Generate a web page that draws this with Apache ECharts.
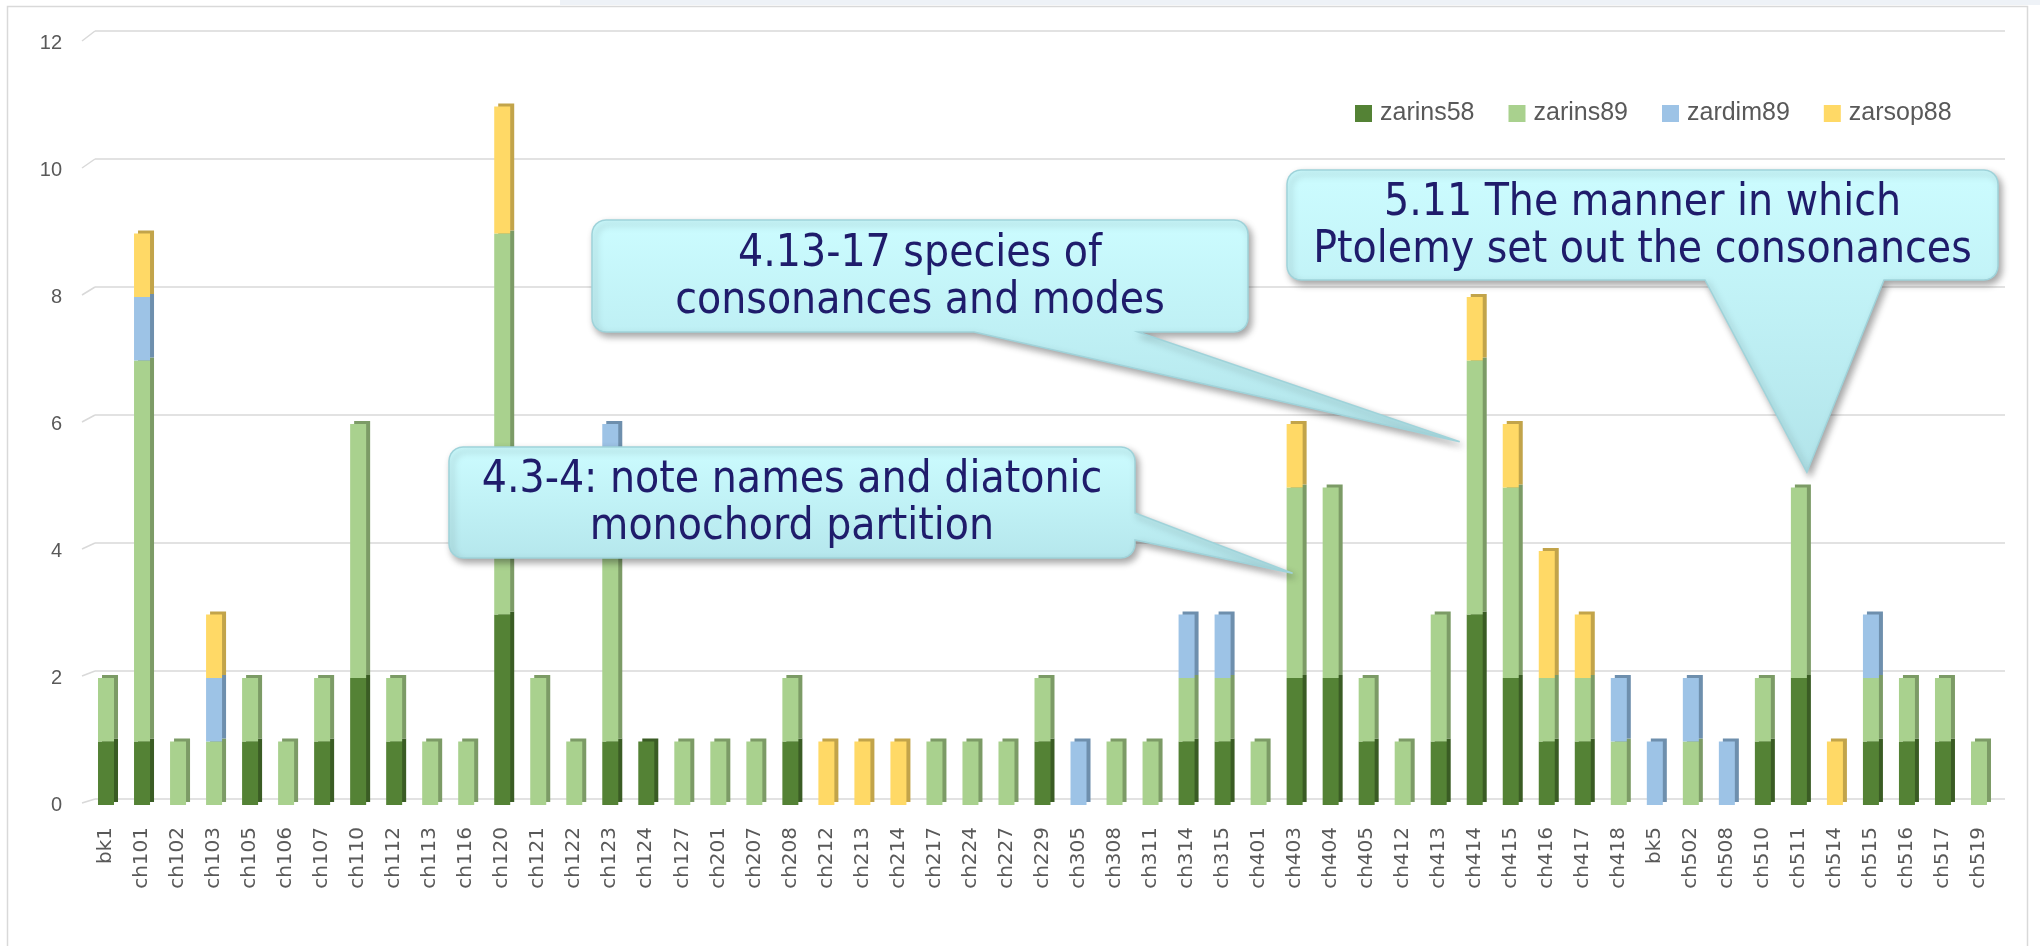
<!DOCTYPE html>
<html>
<head>
<meta charset="utf-8">
<script src="https://cdn.jsdelivr.net/npm/echarts@6/dist/echarts.min.js"></script>
<style>
  html, body { margin: 0; padding: 0; background: #ffffff; }
  #chart { width: 2040px; height: 946px; }
</style>
</head>
<body>
<div id="chart"></div>
<script>
// ---- data ----
const categories = ['bk1','ch101','ch102','ch103','ch105','ch106','ch107','ch110','ch112','ch113','ch116','ch120','ch121','ch122','ch123','ch124','ch127','ch201','ch207','ch208','ch212','ch213','ch214','ch217','ch224','ch227','ch229','ch305','ch308','ch311','ch314','ch315','ch401','ch403','ch404','ch405','ch412','ch413','ch414','ch415','ch416','ch417','ch418','bk5','ch502','ch508','ch510','ch511','ch514','ch515','ch516','ch517','ch519'];
const zarins58 = [1,1,0,0,1,0,1,2,1,0,0,3,0,0,1,1,0,0,0,1,0,0,0,0,0,0,1,0,0,0,1,1,0,2,2,1,0,1,3,2,1,1,0,0,0,0,1,2,0,1,1,1,0];
const zarins89 = [1,6,1,1,1,1,1,4,1,1,1,6,2,1,4,0,1,1,1,1,0,0,0,1,1,1,1,0,1,1,1,1,1,3,3,1,1,2,4,3,1,1,1,0,1,0,1,3,0,1,1,1,1];
const zardim89 = [0,1,0,1,0,0,0,0,0,0,0,0,0,0,1,0,0,0,0,0,0,0,0,0,0,0,0,1,0,0,1,1,0,0,0,0,0,0,0,0,0,0,1,1,1,1,0,0,0,1,0,0,0];
const zarsop88 = [0,1,0,1,0,0,0,0,0,0,0,2,0,0,0,0,0,0,0,0,1,1,1,0,0,0,0,0,0,0,0,0,0,1,0,0,0,0,1,1,2,1,0,0,0,0,0,0,1,0,0,0,0];
const seriesNames = ['zarins58','zarins89','zardim89','zarsop88'];
const yTicks = [0, 2, 4, 6, 8, 10, 12];
const callouts = [
  { text: '4.13-17 species of\nconsonances and modes', target: 'ch414', value: 5.72 },
  { text: '4.3-4: note names and diatonic\nmonochord partition', target: 'ch403', value: 3.65 },
  { text: '5.11 The manner in which\nPtolemy set out the consonances', target: 'ch511', value: 5.24 }
];

// ---- styles ----
const colors = ['#548235', '#A9D18E', '#9DC3E6', '#FFD966'];
const sideColors = ['#3a5c24', '#7c9b66', '#6e8fad', '#c2a44a'];
const boxLayout = [
  { x: 592, y: 220, w: 656, h: 112, edge: 'bottom', a: 974, b: 1138, dx: -15 },
  { x: 449, y: 447, w: 686, h: 111, edge: 'right', a: 513, b: 540, dx: -2 },
  { x: 1287, y: 170, w: 711, h: 110, edge: 'bottom', a: 1705, b: 1884, dx: 8 }
];
const calloutFont = '44px "DejaVu Sans Condensed", "DejaVu Sans"';

const chart = echarts.init(document.getElementById('chart'), null, { renderer: 'canvas' });
const allData = [zarins58, zarins89, zardim89, zarsop88];
const yMin = yTicks[0], yMax = yTicks[yTicks.length - 1], yStep = yTicks[1] - yTicks[0];

const option = {
  animation: false,
  backgroundColor: '#ffffff',
  grid: [
    { left: 88, right: 43, top: 43, bottom: 141, containLabel: false },
    { left: 95, right: 35, top: 31, bottom: 147, containLabel: false }
  ],
  legend: {
    data: seriesNames,
    left: 1350, top: 96,
    icon: 'rect', itemWidth: 17, itemHeight: 17, itemGap: 34,
    textStyle: { fontFamily: 'Liberation Sans', fontSize: 25, color: '#595959', padding: [0, 0, 0, 3] }
  },
  xAxis: [
    {
      type: 'category', data: categories, gridIndex: 0,
      axisLine: { show: false }, axisTick: { show: false },
      axisLabel: { interval: 0, rotate: 90, margin: 22, fontFamily: 'DejaVu Sans', fontSize: 20, color: '#595959' }
    },
    { type: 'category', data: categories, gridIndex: 1, show: false }
  ],
  yAxis: [
    {
      type: 'value', gridIndex: 0, min: yMin, max: yMax, interval: yStep,
      axisLine: { show: false }, axisTick: { show: false },
      axisLabel: { margin: 26, fontFamily: 'Liberation Sans', fontSize: 20, color: '#595959' },
      splitLine: { show: false }
    },
    {
      type: 'value', gridIndex: 1, min: yMin, max: yMax, interval: yStep,
      axisLine: { show: false }, axisTick: { show: false }, axisLabel: { show: false },
      splitLine: { lineStyle: { color: '#d9d9d9', width: 1.5 } }
    }
  ],
  series: seriesNames.map((name, i) => ({
    name, type: 'bar', stack: 'total', barWidth: 16, xAxisIndex: 0, yAxisIndex: 0,
    data: allData[i].map(v => (v === 0 ? null : v)),
    itemStyle: {
      color: colors[i],
      shadowColor: sideColors[i], shadowBlur: 0, shadowOffsetX: 4, shadowOffsetY: -3
    },
    emphasis: { disabled: true }
  }))
};
chart.setOption(option);

function roundedBoxWithPointer(L, tip) {
  const pts = [];
  const r = 14, n = 6;
  const { x, y, w, h } = L;
  function arc(cx, cy, a0, a1) {
    for (let k = 0; k <= n; k++) {
      const a = a0 + (a1 - a0) * k / n;
      pts.push([cx + r * Math.cos(a), cy + r * Math.sin(a)]);
    }
  }
  const P = Math.PI;
  arc(x + r, y + r, P, 1.5 * P);
  arc(x + w - r, y + r, 1.5 * P, 2 * P);
  if (L.edge === 'right') {
    pts.push([x + w, L.a]); pts.push(tip); pts.push([x + w, L.b]);
  }
  arc(x + w - r, y + h - r, 0, 0.5 * P);
  if (L.edge === 'bottom') {
    pts.push([L.b, y + h]); pts.push(tip); pts.push([L.a, y + h]);
  }
  arc(x + r, y + h - r, 0.5 * P, P);
  return pts;
}

const graphics = [
  { type: 'rect', z: -10, silent: true, shape: { x: 560, y: 0, width: 1480, height: 5 }, style: { fill: '#eef2f7' } },
  { type: 'rect', z: -5, silent: true, shape: { x: 7.5, y: 6.5, width: 2020, height: 1000 }, style: { fill: 'none', stroke: '#d9d9d9', lineWidth: 1.5 } }
];
// perspective stubs joining front floor edge to back gridlines
yTicks.forEach(v => {
  const front = chart.convertToPixel({ yAxisIndex: 0 }, v);
  const back = chart.convertToPixel({ yAxisIndex: 1 }, v);
  graphics.push({
    type: 'line', z: -1, silent: true,
    shape: { x1: 82, y1: front - 2, x2: 95, y2: back },
    style: { stroke: '#d9d9d9', lineWidth: 1.5 }
  });
});
callouts.forEach((c, i) => {
  const L = boxLayout[i];
  const p = chart.convertToPixel({ xAxisIndex: 0, yAxisIndex: 0 }, [c.target, c.value]);
  const tip = [p[0] + L.dx, p[1]];
  graphics.push({
    type: 'polygon', z: 100, silent: true,
    shape: { points: roundedBoxWithPointer(L, tip) },
    style: {
      fill: new echarts.graphic.LinearGradient(0, 0, 0, 1, [
        { offset: 0, color: '#ccfcff' }, { offset: 1, color: '#b2e4ea' }
      ]),
      stroke: '#9fd3da', lineWidth: 1.5,
      shadowColor: 'rgba(0,0,0,0.35)', shadowBlur: 7, shadowOffsetX: 3, shadowOffsetY: 4
    }
  });
  graphics.push({
    type: 'text', z: 101, silent: true,
    style: {
      text: c.text, x: L.x + L.w / 2, y: L.y + L.h / 2 + 2,
      textAlign: 'center', textVerticalAlign: 'middle',
      font: calloutFont, lineHeight: 47, fill: '#1f1c6b'
    }
  });
});
chart.setOption({ graphic: graphics });
</script>
</body>
</html>
